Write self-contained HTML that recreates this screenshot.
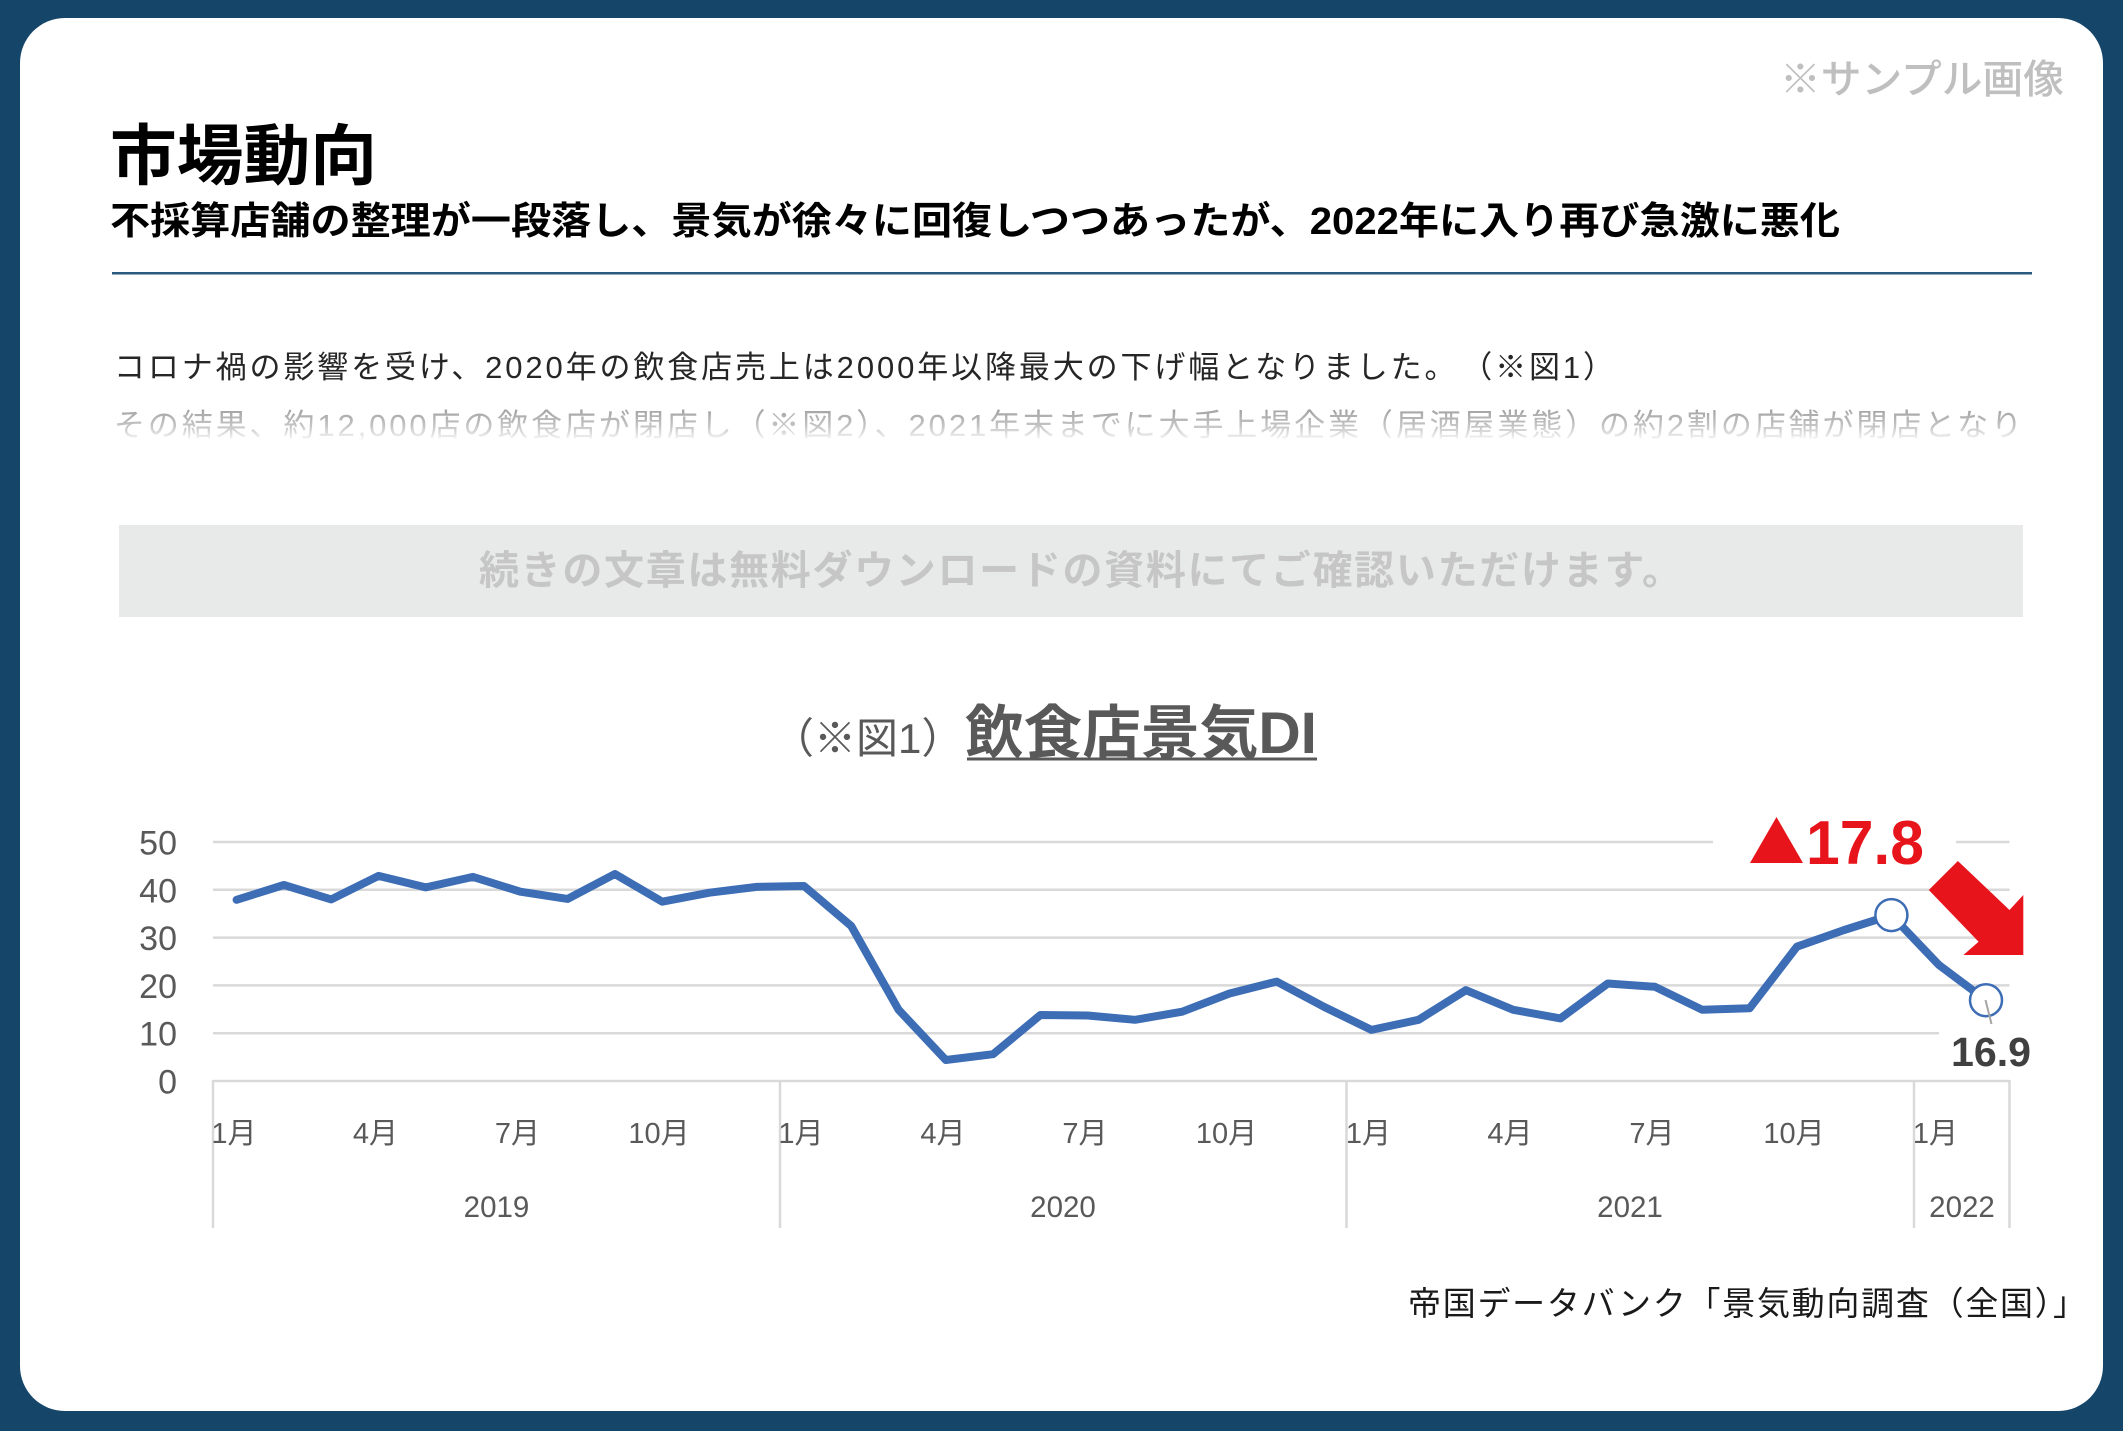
<!DOCTYPE html>
<html lang="ja">
<head>
<meta charset="utf-8">
<style>
  html,body{margin:0;padding:0;background:#154669;}
  svg{display:block;}
  text{font-family:"Liberation Sans","Noto Sans CJK JP",sans-serif;}
</style>
</head>
<body>
<svg width="2123" height="1431" viewBox="0 0 2123 1431" xmlns="http://www.w3.org/2000/svg">
  <defs>
    <linearGradient id="fade" gradientUnits="userSpaceOnUse" x1="0" y1="406" x2="0" y2="442">
      <stop offset="0" stop-color="#9c9c9c"/>
      <stop offset="0.55" stop-color="#c4c4c4"/>
      <stop offset="1" stop-color="#ffffff"/>
    </linearGradient>
  </defs>

  <!-- background & card -->
  <rect x="0" y="0" width="2123" height="1431" fill="#154669"/>
  <rect x="20" y="18" width="2083" height="1393" rx="45" ry="45" fill="#ffffff"/>

  <!-- sample label -->
  <text x="1780" y="93" font-size="40" font-weight="500" fill="#bfbfbf" textLength="284" lengthAdjust="spacingAndGlyphs">※サンプル画像</text>

  <!-- title -->
  <text x="110" y="179" font-size="66" font-weight="700" fill="#000" textLength="267" lengthAdjust="spacingAndGlyphs">市場動向</text>
  <text x="110" y="234" font-size="38" font-weight="700" fill="#000" textLength="1730" lengthAdjust="spacingAndGlyphs">不採算店舗の整理が一段落し、景気が徐々に回復しつつあったが、2022年に入り再び急激に悪化</text>
  <rect x="112" y="272" width="1920" height="2.5" fill="#2b5a80"/>

  <!-- body text -->
  <text x="114" y="378" font-size="31" fill="#262626" textLength="1500" lengthAdjust="spacing">コロナ禍の影響を受け、2020年の飲食店売上は2000年以降最大の下げ幅となりました。　（※図1）</text>
  <text x="114" y="436" font-size="31" fill="url(#fade)" textLength="1908" lengthAdjust="spacing">その結果、約12,000店の飲食店が閉店し（※図2）、2021年末までに大手上場企業（居酒屋業態）の約2割の店舗が閉店となり</text>

  <!-- banner -->
  <rect x="119" y="525" width="1904" height="92" fill="#e8e9e9"/>
  <text x="479" y="584" font-size="40" font-weight="700" fill="#c6c6c6" textLength="1203" lengthAdjust="spacing">続きの文章は無料ダウンロードの資料にてご確認いただけます。</text>

  <!-- chart title -->
  <text x="772" y="753" font-size="42" fill="#595959">（※図1）</text>
  <text x="965" y="753" font-size="58" font-weight="700" fill="#595959" textLength="352" lengthAdjust="spacingAndGlyphs">飲食店景気DI</text>
  <rect x="967" y="757.5" width="350" height="3" fill="#595959"/>

  <!-- gridlines -->
  <g stroke="#d9d9d9" stroke-width="2.5" fill="none">
    <line x1="213" y1="842" x2="1713" y2="842"/>
    <line x1="1956" y1="842" x2="2009.5" y2="842"/>
    <line x1="213" y1="889.8" x2="2009.5" y2="889.8"/>
    <line x1="213" y1="937.6" x2="2009.5" y2="937.6"/>
    <line x1="213" y1="985.4" x2="2009.5" y2="985.4"/>
    <line x1="213" y1="1033.2" x2="1939" y2="1033.2"/>
    <line x1="213" y1="1081" x2="2009.5" y2="1081"/>
    <line x1="213" y1="1080" x2="213" y2="1228"/>
    <line x1="780" y1="1080" x2="780" y2="1228"/>
    <line x1="1346.5" y1="1080" x2="1346.5" y2="1228"/>
    <line x1="1914" y1="1080" x2="1914" y2="1228"/>
    <line x1="2009.5" y1="1080" x2="2009.5" y2="1228"/>
  </g>

  <!-- y axis labels -->
  <g font-size="34" fill="#595959" text-anchor="end">
    <text x="177" y="854.5">50</text>
    <text x="177" y="902.3">40</text>
    <text x="177" y="950.1">30</text>
    <text x="177" y="997.9">20</text>
    <text x="177" y="1045.7">10</text>
    <text x="177" y="1093.5">0</text>
  </g>

  <!-- month labels -->
  <g font-size="29" fill="#595959" text-anchor="middle">
    <text x="234" y="1143">1月</text>
    <text x="375.5" y="1143">4月</text>
    <text x="517.5" y="1143">7月</text>
    <text x="659" y="1143">10月</text>
    <text x="801" y="1143">1月</text>
    <text x="943" y="1143">4月</text>
    <text x="1085" y="1143">7月</text>
    <text x="1226.5" y="1143">10月</text>
    <text x="1368.5" y="1143">1月</text>
    <text x="1510" y="1143">4月</text>
    <text x="1652" y="1143">7月</text>
    <text x="1794" y="1143">10月</text>
    <text x="1935.5" y="1143">1月</text>
  </g>
  <g font-size="29.5" fill="#595959" text-anchor="middle">
    <text x="496.5" y="1217">2019</text>
    <text x="1063" y="1217">2020</text>
    <text x="1630" y="1217">2021</text>
    <text x="1962" y="1217">2022</text>
  </g>

  <!-- data line -->
  <polyline fill="none" stroke="#3d6db5" stroke-width="8" stroke-linejoin="round" stroke-linecap="round"
    points="236.6,899.8 283.9,885.0 331.2,899.4 378.5,875.9 425.8,887.4 473.0,876.9 520.3,891.7 567.6,898.9 614.9,874.0 662.2,901.7 709.4,892.7 756.7,886.9 804.0,886.0 851.3,926.1 898.6,1009.8 945.8,1060.0 993.1,1054.2 1040.4,1015.0 1087.7,1015.5 1135.0,1019.8 1182.2,1011.7 1229.5,993.5 1276.8,981.6 1324.1,1006.9 1371.4,1029.9 1418.6,1019.8 1465.9,990.2 1513.2,1009.8 1560.5,1018.4 1607.8,983.5 1655.0,986.8 1702.3,1009.8 1749.6,1008.3 1796.9,946.7 1844.2,930.0 1891.4,915.1 1938.7,964.8 1986.0,1000.2"/>

  <!-- markers -->
  <circle cx="1891.4" cy="915.1" r="16" fill="#ffffff" stroke="#3d6db5" stroke-width="2.5"/>
  <circle cx="1986" cy="1000.2" r="16" fill="#ffffff" stroke="#3d6db5" stroke-width="2.5"/>
  <line x1="1985.5" y1="1000" x2="1991.5" y2="1024" stroke="#a6a6a6" stroke-width="2"/>

  <!-- annotations -->
  <text x="1951" y="1066" font-size="41" font-weight="700" fill="#404040" textLength="80" lengthAdjust="spacingAndGlyphs">16.9</text>
  <polygon points="1750,863 1776.5,817 1803,863" fill="#e8141b"/>
  <text x="1806" y="864" font-size="62" font-weight="700" fill="#e8141b" textLength="118" lengthAdjust="spacingAndGlyphs">17.8</text>
  <polygon points="1957.9,861 2009.5,910 2023.3,895 2023.3,955 1963.4,955 1978.6,941.7 1928.8,890" fill="#e8141b"/>

  <!-- source -->
  <text x="1408" y="1315" font-size="33" fill="#1a1a1a" textLength="678" lengthAdjust="spacing">帝国データバンク「景気動向調査（全国）」</text>
</svg>
</body>
</html>
